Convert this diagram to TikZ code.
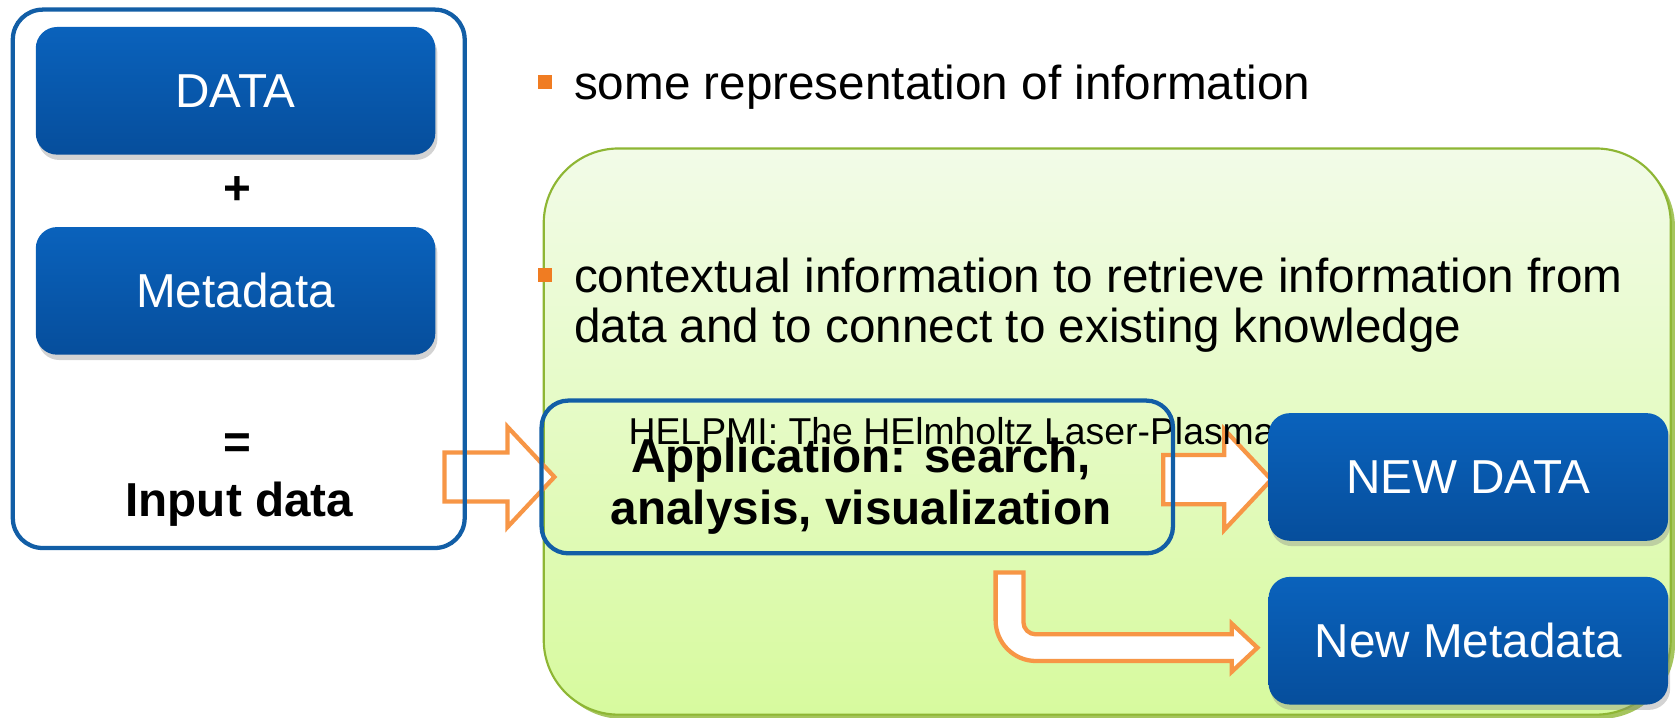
\documentclass[tikz,border=0pt]{standalone}
\usepackage{fontspec}
\setmainfont{Liberation Sans}
\usepackage{tikz}
\usetikzlibrary{positioning, calc, shadows}

\definecolor{boxblue}{RGB}{10,98,188}
\definecolor{boxbluedark}{RGB}{6,78,156}
\definecolor{frameblue}{RGB}{18,94,166}
\definecolor{arroworange}{RGB}{247,150,70}
\definecolor{bulletorange}{RGB}{240,124,34}
\definecolor{greentop}{RGB}{242,251,232}
\definecolor{greenbottom}{RGB}{215,250,158}
\definecolor{greenedge}{RGB}{142,182,52}

\pgfdeclarelayer{background}
\pgfdeclarelayer{arrowlayer}
\pgfsetlayers{background,arrowlayer,main}

\tikzset{blockarrow/.style={ % White block arrows with orange outline
    draw=arroworange,
    fill=white,
    line width=2pt,
    line join=miter}}

% Straight block arrow: #1 = tail, #2 = tip (the tip sets the height)
\newcommand{\blockarrow}[2]{%
  \draw[blockarrow] let \p1=(#1), \p2=(#2) in
    (\x1,\y2+11.5pt) -- (\x2-22pt,\y2+11.5pt) -- (\x2-22pt,\y2+23.5pt) -- (\x2,\y2)
    -- (\x2-22pt,\y2-23.5pt) -- (\x2-22pt,\y2-11.5pt) -- (\x1,\y2-11.5pt) -- cycle;}

\begin{document}
\begin{tikzpicture}[x=0.5pt, y=-0.5pt]

        % Define style
        \tikzstyle{bluebox} = [rectangle, rounded corners=10pt, top color=boxblue, bottom color=boxbluedark, minimum width=187pt, minimum height=59.75pt, text=white, font=\fontsize{22.3}{26}\selectfont, drop shadow={shadow xshift=1pt, shadow yshift=-2.5pt, opacity=0.35}]
        \tikzstyle{inframe} = [rectangle, draw=frameblue, line width=2pt]
        \tikzstyle{bulletsq} = [rectangle, fill=bulletorange, minimum size=6.5pt, inner sep=0pt]
        \tikzstyle{bigbold} = [font=\fontsize{22.3}{24}\selectfont\bfseries, align=center]
        \tikzstyle{bullettext} = [font=\fontsize{22.3}{23.5}\selectfont, align=left, anchor=base west, inner sep=0pt]

        \useasboundingbox (0,0) rectangle (1568,672);

        % Green context box
        \begin{pgfonlayer}{background}
        \node[rectangle, rounded corners=35pt, draw=greenedge, line width=1pt, top color=greentop, bottom color=greenbottom, minimum width=527.5pt, minimum height=265pt, drop shadow={shadow xshift=2pt, shadow yshift=-2pt, fill=greenedge, opacity=0.8}] (context) at (1036.5,404) {};
        \end{pgfonlayer}

        % Input side
        \node[inframe, rounded corners=14pt, minimum width=211.5pt, minimum height=252pt] (input) at (223.5,261) {};
        \node[bluebox] (data) at (220.5,85) {DATA};
        \node[bluebox, below=33.5pt of data] (meta) {Metadata};
        \node[bigbold] (plus) at (222,178) {+};
        \node[bigbold] (equals) at (222,418) {=};
        \node[bigbold] (inlabel) at (224,472) {Input data};

        % Bullets (base of a two-line text is its last line)
        \node[bulletsq] (dot1) at (510,76.5) {};
        \node[bullettext] (txt1) at (537,93.5) {some representation of information};
        \node[bulletsq] (dot2) at (510,257.5) {};
        \node[bullettext] (txt2) at (537,320.5) {contextual information to retrieve information from\\data and to connect to existing knowledge};

        % Application
        \node[font=\fontsize{17.5}{20}\selectfont, anchor=base west, inner sep=0pt] (helpmi) at (588,416.5) {HELPMI: The HElmholtz Laser-Plasma};
        \node[inframe, rounded corners=12.5pt, minimum width=295.5pt, minimum height=71.5pt] (app) at (802.5,446.5) {};
        \node[bigbold] (apptext) at (806,455) {Application: search,\\analysis, visualization};

        % Results
        \node[bluebox] (newdata) at (1374.5,446.5) {NEW DATA};
        \node[bluebox, below=16.5pt of newdata] (newmeta) {New Metadata};

        % Arrows
        \coordinate (bendtop) at ($(app.south)+(142.5,16)$);
        \begin{pgfonlayer}{arrowlayer}
        \blockarrow{$(input.east)+(-21,0)$}{$(app.west)+(14,0)$}
        \blockarrow{$(app.east)+(-11,0)$}{$(newdata.west)+(3,2.5)$}
        \draw[blockarrow] let \p1=(bendtop), \p2=($(newmeta.west)+(-10,6.5)$) in
            (\x1-6.5pt,\y1) -- (\x1+6.5pt,\y1) -- (\x1+6.5pt,\y2+12pt)
            arc[start angle=180, end angle=270, radius=5.75pt] -- (\x2-12pt,\y2+6.25pt)
            -- (\x2-12pt,\y2+11.25pt) -- (\x2,\y2) -- (\x2-12pt,\y2-11.25pt) -- (\x2-12pt,\y2-6.25pt)
            -- (\x1+12.5pt,\y2-6.25pt) arc[start angle=270, end angle=180, radius=19pt] -- cycle;
        \end{pgfonlayer}

\end{tikzpicture}
\end{document}
